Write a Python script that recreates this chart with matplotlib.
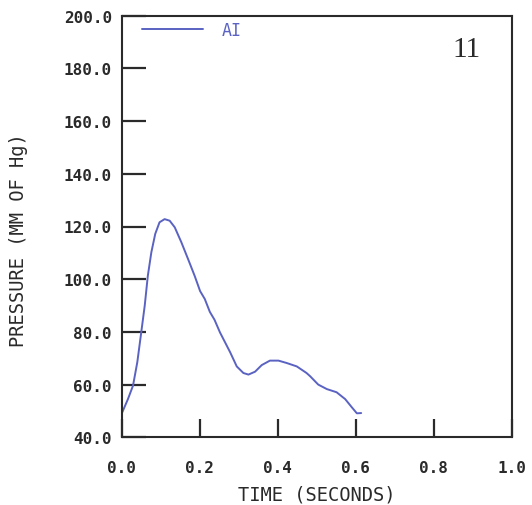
import matplotlib
matplotlib.use("Agg")
import matplotlib.pyplot as plt

# Data
time_s = [0.000, 0.016, 0.029, 0.040, 0.049, 0.059, 0.067, 0.076, 0.086, 0.097,
          0.110, 0.123, 0.136, 0.153, 0.170, 0.187, 0.201, 0.213, 0.226, 0.238,
          0.252, 0.278, 0.295, 0.312, 0.325, 0.342, 0.359, 0.380, 0.402, 0.423,
          0.449, 0.474, 0.483, 0.504, 0.526, 0.551, 0.573, 0.590, 0.603, 0.614]
pressure = [49.0, 54.5, 59.6, 68.5, 78.6, 89.9, 101.3, 110.2, 117.2, 121.6,
            122.8, 122.2, 119.7, 114.0, 107.7, 101.3, 95.5, 92.5, 87.6, 84.6,
            79.8, 72.3, 66.9, 64.4, 63.8, 64.9, 67.4, 69.1, 69.1, 68.2,
            66.9, 64.4, 63.2, 60.0, 58.3, 57.1, 54.5, 51.4, 49.1, 49.2]
series_label = "AI"
panel_label = "11"
xticks = [0.0, 0.2, 0.4, 0.6, 0.8, 1.0]
yticks = [40, 60, 80, 100, 120, 140, 160, 180, 200]
xlabel = "TIME (SECONDS)"
ylabel = "PRESSURE (MM OF Hg)"

line_color = "#5a62c2"
ink = "#2a2a2a"
mono = "DejaVu Sans Mono"

fig = plt.figure(figsize=(5.32, 5.06), dpi=100)
L, R, T, B = 121.7 / 532, 511.7 / 532, 1 - 16.7 / 506, 1 - 438.3 / 506
ax = fig.add_axes([L, B, R - L, T - B])

ax.plot(time_s, pressure, color=line_color, lw=1.4, solid_joinstyle="round",
        solid_capstyle="round", label=series_label)

ax.set_xlim(0, 1.0)
ax.set_ylim(40, 200)
ax.set_xticks(xticks)
ax.set_yticks(yticks)
ax.set_xticklabels([f"{v:.1f}" for v in xticks])
ax.set_yticklabels([f"{v:.1f}" for v in yticks])

for lab in ax.get_xticklabels() + ax.get_yticklabels():
    lab.set_fontfamily(mono)
    lab.set_fontsize(11.5)
    lab.set_fontweight("bold")
    lab.set_color(ink)

ax.tick_params(axis="y", direction="in", length=17, width=1.6, pad=7, colors=ink)
ax.tick_params(axis="x", direction="in", length=13, width=1.6, pad=16, colors=ink)
for sp in ax.spines.values():
    sp.set_linewidth(1.5)
    sp.set_color(ink)

ax.set_xlabel(xlabel, fontfamily=mono, fontsize=13.5, color=ink)
ax.xaxis.set_label_coords(0.5, -0.112)
ax.set_ylabel(ylabel, fontfamily=mono, fontsize=13.5, color=ink)
ax.yaxis.set_label_coords(-0.24, 0.47)

leg = ax.legend(loc="center left", bbox_to_anchor=(0.0513, 0.966), frameon=False,
                handlelength=3.7, handletextpad=1.1, borderpad=0, borderaxespad=0,
                prop={"family": mono, "size": 12})
for t in leg.get_texts():
    t.set_color(line_color)

ax.text(0.885, 0.921, panel_label, transform=ax.transAxes, fontfamily="Liberation Serif",
        fontsize=21, color=ink, ha="center", va="center")

fig.savefig("out.png", dpi=100)
